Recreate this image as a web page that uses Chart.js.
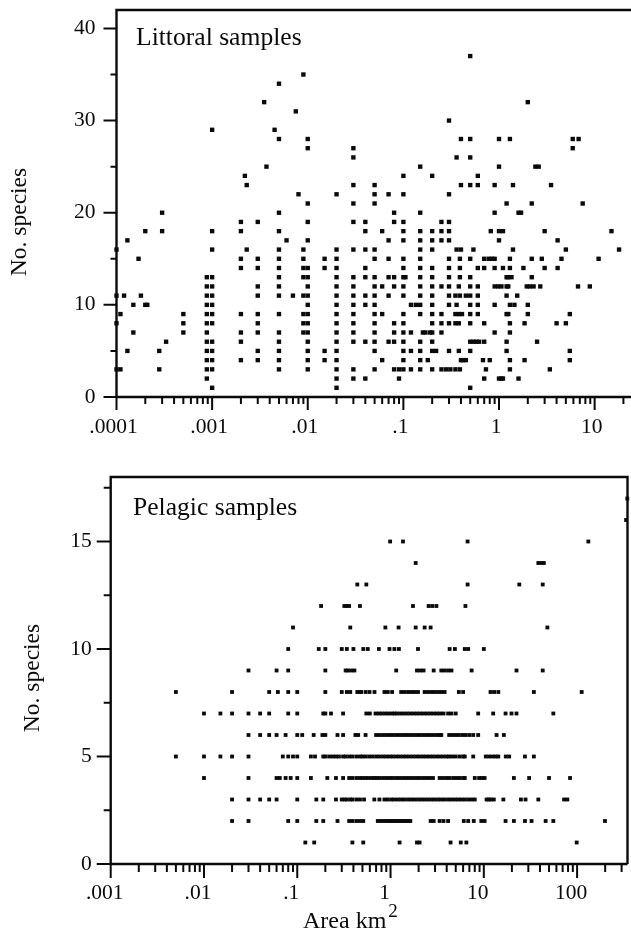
<!DOCTYPE html>
<html><head><meta charset="utf-8">
<style>html,body{margin:0;padding:0;background:#fff}canvas{position:absolute;left:0;display:block}</style>
<script src="https://cdn.jsdelivr.net/npm/chart.js@4"></script>
</head><body>
<canvas id="top" width="631" height="440" style="top:0"></canvas>
<canvas id="bot" width="631" height="496" style="top:440px"></canvas>
<script>
// Littoral samples: area values (km2) read for each species count
const L1=[.001,.02,.5];
const L2=[.00088,.02,.03,.04,.09,.7,1,1.06,1.1,1.6];
const L3=[.0001,.00011,.00028,.00088,.001,.005,.01,.02,.03,.05,.08,.09,.1,.12,.15,.2,.25,.28,.31,.35,.39,.73,1.3,3.4];
const L4=[.00088,.001,.002,.003,.005,.01,.015,.02,.06,.1,.15,.18,.4,.42,.45,.68,.8,1.3,1.85,5.5];
const L5=[.00013,.00028,.00088,.001,.003,.005,.01,.015,.02,.05,.1,.12,.15,.2,.22,.3,.38,.5,1.2,5.5];
const L6=[.00033,.00088,.001,.002,.005,.01,.02,.03,.04,.05,.07,.08,.1,.15,.2,.5,.54,.58,.62,.7,1.2,2.5];
const L7=[.00015,.0005,.00088,.002,.003,.005,.009,.01,.02,.03,.05,.08,.1,.12,.16,.17,.19,.2,.25,.9,1.3];
const L8=[.0001,.0005,.00088,.001,.003,.009,.01,.02,.03,.05,.08,.1,.2,.25,.3,.35,.38,.5,.7,1.3,1.85,4,5];
const L9=[.00011,.0005,.00088,.001,.002,.003,.005,.009,.01,.02,.03,.05,.06,.1,.15,.2,.25,.35,.38,.41,.5,.6,1.2,1.25,2,5.5];
const L10=[.00015,.0002,.00021,.00088,.001,.01,.02,.03,.04,.05,.12,.135,.15,.2,.3,.36,.5,.6,.9,1.3,1.45,2];
const L11=[.0001,.00012,.00018,.00088,.001,.003,.005,.007,.009,.01,.02,.03,.04,.05,.07,.1,.15,.2,.3,.35,.39,.45,.5,.6,1.2,1.55];
const L12=[.00088,.001,.003,.005,.01,.02,.03,.05,.06,.08,.1,.15,.2,.25,.3,.38,.5,.6,.9,.98,1.06,1.2,1.25,1.95,2.1,2.3,2.7,6.7,8.9];
const L13=[.00088,.001,.005,.009,.01,.02,.03,.04,.05,.07,.08,.1,.105,.15,.2,.3,.39,.5,1.2,1.25,1.35,2.2];
const L14=[.002,.003,.005,.009,.01,.015,.02,.04,.1,.15,.2,.3,.39,.6,.7,.9,1.1,1.3,1.8,3,4.1];
const L15=[.00017,.002,.003,.005,.009,.015,.02,.05,.07,.1,.15,.3,.39,.5,.7,.78,.84,.9,1.3,2.2,2.8,4.5,11];
const L16=[.0001,.001,.0023,.005,.009,.02,.03,.04,.05,.15,.2,.36,.4,.54,1.4,5,18];
const L17=[.00013,.006,.01,.07,.1,.15,.2,.25,.3,1,4.1];
const L18=[.0002,.0003,.001,.002,.005,.04,.06,.1,.15,.2,.25,.3,.82,1,1.1,3,15];
const L19=[.002,.003,.01,.03,.04,.08,.1,.25,.3];
const L20=[.0003,.005,.08,.15,.9,1.6,1.7];
const L21=[.01,.03,.05,1.2,2.2,7.5];
const L22=[.008,.02,.05,.07,.1,.3];
const L23=[.0023,.03,.05,.4,.5,.6,.9,1.4,3.5];
const L24=[.0022,.1,.2,.6];
const L25=[.0037,.15,1,2.4,2.6];
const L26=[.03,.36,.5];
const L27=[.01,.03,5.9];
const L28=[.005,.01,.4,.5,1,1.3,5.9,6.8];
const L29=[.001,.0045];
const L30=[.3];
const L31=[.0075];
const L32=[.0035,2];
const L34=[.005];
const L35=[.009];
const L37=[.5];
const littoralCounts=[1,2,3,4,5,6,7,8,9,10,11,12,13,14,15,16,17,18,19,20,21,22,23,24,25,26,27,28,29,30,31,32,34,35,37];
const littoralAreas=[L1,L2,L3,L4,L5,L6,L7,L8,L9,L10,L11,L12,L13,L14,L15,L16,L17,L18,L19,L20,L21,L22,L23,L24,L25,L26,L27,L28,L29,L30,L31,L32,L34,L35,L37];

// Pelagic samples
const P1=[.122,.152,.39,.51,1.25,1.92,2.05,4.4,5.66,6.5,99];
const P2=[.02,.03,.08,.1,.16,.19,.27,.36,.39,.43,.47,.51,.73,.78,.83,.88,.93,.98,1.02,1.08,1.14,1.2,1.26,1.33,1.4,1.47,1.55,1.63,2.69,2.9,3.36,3.7,4.14,6.1,6.8,7.8,9.4,10.2,17.1,21,27.6,32.5,46,55.6,199];
const P3=[.02,.03,.04,.05,.06,.1,.16,.19,.26,.3,.32,.34,.37,.39,.43,.47,.52,.67,.76,.86,.935,1.02,1.1,1.2,1.3,1.41,1.54,1.67,1.81,1.97,2.14,2.32,2.52,2.74,2.97,3.23,3.5,3.8,4.14,4.5,4.9,5.3,5.75,6.25,6.8,7.4,8,10.7,11.3,11.9,12.8,16.2,25,28,38.4,72.5,78.6];
const P4=[.01,.03,.06,.065,.075,.085,.1,.14,.21,.26,.31,.36,.39,.43,.47,.5,.54,.58,.63,.67,.71,.76,.83,.9,.98,1.06,1.15,1.25,1.36,1.47,1.6,1.74,1.89,2.05,2.23,2.42,2.63,2.85,3.36,3.65,3.97,4.3,4.7,5.1,5.5,6,6.25,8,8.9,9.6,10.2,21,30.6,50,84];
const P5=[.005,.01,.015,.02,.03,.07,.08,.09,.1,.14,.155,.19,.2,.22,.24,.26,.28,.31,.33,.36,.39,.43,.47,.5,.54,.59,.64,.7,.76,.83,.9,.98,1.06,1.15,1.25,1.36,1.47,1.6,1.74,1.89,2.05,2.23,2.42,2.63,2.85,3.1,3.36,3.65,3.97,4.25,4.6,5,5.5,6,6.25,7.7,10.5,11.4,12.4,13.4,14.3,17.2,18.7,27.6,34.4];
const P6=[.03,.04,.05,.06,.075,.1,.113,.15,.186,.2,.27,.31,.42,.45,.54,.7,.76,.83,.9,.98,1.06,1.15,1.25,1.36,1.47,1.6,1.74,1.89,2.05,2.23,2.42,2.63,2.85,3.1,3.36,3.5,4.25,4.6,5,5.4,5.9,6.4,7,7.7,8.7,13.7,16.4];
const P7=[.01,.015,.02,.03,.04,.05,.08,.1,.19,.2,.23,.31,.55,.6,.69,.75,.81,.88,.95,1.03,1.1,1.17,1.27,1.38,1.5,1.63,1.77,1.92,2.08,2.26,2.45,2.66,2.9,3.14,3.4,3.7,4.14,4.5,5,8.7,12.6,17.1,19.8,22.4,55.6];
const P8=[.005,.02,.05,.062,.08,.1,.2,.3,.34,.37,.44,.47,.484,.54,.595,.673,.86,.935,1.04,1.3,1.41,1.54,1.67,1.81,1.97,2.32,2.52,2.74,2.97,3.23,3.5,3.8,5.4,6,11.8,12.9,14.3,34.4,112];
const P9=[.03,.06,.08,.2,.33,.35,.38,.41,1.15,1.92,2.08,2.26,2.9,3.5,3.8,4.14,4.5,7.4,22.4,42.8];
const P10=[.08,.17,.2,.3,.34,.4,.51,.57,.75,.975,1.1,1.23,1.97,4.3,4.9,6.25,6.8,10];
const P11=[.09,.37,.88,1.22,1.86,2.32,2.69,48];
const P12=[.18,.32,.34,.36,.47,1.74,2.56,2.8,3.1,6.35];
const P13=[.44,.55,6.7,24,42.8];
const P14=[1.86,38.4,41.7,44];
const P15=[.99,1.36,6.7,132];
const P16=[335];
const P17=[345];
const pelagicCounts=[1,2,3,4,5,6,7,8,9,10,11,12,13,14,15,16,17];
const pelagicAreas=[P1,P2,P3,P4,P5,P6,P7,P8,P9,P10,P11,P12,P13,P14,P15,P16,P17];

const littoralDecades=[.0001,.001,.01,.1,1,10];
const littoralDecadeLabels=['.0001','.001','.01','.1','1','10'];
const littoralYTicks=[0,5,10,15,20,25,30,35,40];
const littoralYLabelled=[0,10,20,30,40];
const pelagicDecades=[.001,.01,.1,1,10,100];
const pelagicDecadeLabels=['.001','.01','.1','1','10','100'];
const pelagicYTicks=[0,2.5,5,7.5,10,12.5,15,17.5];
const pelagicYLabelled=[0,5,10,15];
const mantissas=[2,3,4,5,6,7,8,9];

const INK='#0a0a0a', SERIF='"Liberation Serif","Times New Roman",serif';

function panel(id,o){
  const pts=[];
  o.counts.forEach((c,i)=>o.areas[i].forEach(a=>pts.push({x:a,y:c})));
  const allTicks=[];
  o.decades.forEach(d=>{allTicks.push(d);mantissas.forEach(m=>{const v=+(d*m).toPrecision(3);if(v<=o.xMax)allTicks.push(v);});});
  const overlay={id:'overlay',afterDatasetsDraw(ch){
    const c=ch.ctx,a=ch.chartArea,xs=ch.scales.x,ys=ch.scales.y;
    c.save();c.strokeStyle=INK;c.fillStyle=INK;
    // frame
    c.lineWidth=2.4;c.beginPath();
    c.moveTo(a.left,a.bottom);c.lineTo(a.left,a.top);c.lineTo(a.right,a.top);
    if(o.closed)c.lineTo(a.right,a.bottom);
    c.moveTo(a.left,a.bottom);c.lineTo(a.right,a.bottom);c.stroke();
    // tick marks from the scales
    c.lineWidth=2;c.beginPath();
    xs.ticks.forEach(t=>{const p=xs.getPixelForValue(t.value),maj=o.decades.includes(t.value);
      c.moveTo(p,a.bottom);c.lineTo(p,a.bottom+(maj?o.xMajor:o.xMinor));});
    ys.ticks.forEach(t=>{const p=ys.getPixelForValue(t.value),maj=o.yLabelled.includes(t.value);
      c.moveTo(a.left,p);c.lineTo(a.left-(maj?o.yMajor:o.yMinor),p);});
    c.stroke();
    // texts
    c.textBaseline='alphabetic';c.textAlign='left';
    c.font='25.6px '+SERIF;c.fillText(o.label,o.labelX,o.labelY);
    c.save();c.translate(o.yTitleX,o.yTitleY);c.rotate(-Math.PI/2);c.textAlign='center';
    c.font='23.5px '+SERIF;c.fillText('No. species',0,0);c.restore();
    if(o.xTitle){
      c.font='24px '+SERIF;c.fillText('Area km',303,o.xTitleY);
      const w=c.measureText('Area km').width;
      c.font='19px '+SERIF;c.fillText('2',303+w+2,o.xTitleY-11);
    }
    c.restore();
  }};
  return new Chart(document.getElementById(id),{
    type:'scatter',
    data:{datasets:[{label:o.label,data:pts,pointStyle:'rect',pointRadius:o.radius,pointHoverRadius:o.radius,
      backgroundColor:INK,borderColor:INK,borderWidth:0,clip:false,showLine:false}]},
    options:{responsive:false,animation:false,
      layout:{autoPadding:false,padding:{top:o.top,right:o.right,left:0,bottom:0}},
      plugins:{legend:{display:false},tooltip:{enabled:false},title:{display:false}},
      scales:{
        x:{type:'logarithmic',position:'bottom',min:o.decades[0],max:o.xMax,bounds:'data',
          grid:{display:false,drawTicks:false,tickLength:0},border:{display:false},
          afterBuildTicks(s){s.ticks=allTicks.map(v=>({value:v}));},
          afterFit(s){s.height=o.xHeight;s.paddingLeft=0;s.paddingRight=0;s.paddingTop=0;s.paddingBottom=0;},
          ticks:{autoSkip:false,maxRotation:0,minRotation:0,color:INK,padding:o.xPad,labelOffset:o.xOffset,
            font:{family:SERIF,size:o.tick},
            callback(v){const i=o.decades.indexOf(+(+v).toPrecision(3));return i>=0?o.decadeLabels[i]:'';}}},
        y:{type:'linear',position:'left',min:0,max:o.yMax,
          grid:{display:false,drawTicks:false,tickLength:0},border:{display:false},
          afterBuildTicks(s){s.ticks=o.yTicks.map(v=>({value:v}));},
          afterFit(s){s.width=o.yWidth;s.paddingLeft=0;s.paddingRight=0;s.paddingTop=0;s.paddingBottom=0;},
          ticks:{autoSkip:false,color:INK,padding:o.yPad,font:{family:SERIF,size:o.tick},
            callback(v){return o.yLabelled.includes(v)?String(v):'';}}}
      }},
    plugins:[overlay]});
}

panel('top',{counts:littoralCounts,areas:littoralAreas,decades:littoralDecades,decadeLabels:littoralDecadeLabels,
  yTicks:littoralYTicks,yLabelled:littoralYLabelled,xMax:24,yMax:42,
  top:10,right:0,xHeight:43,yWidth:116.5,radius:3.1,tick:21.5,xPad:17,yPad:21,xOffset:-3,
  xMajor:13,xMinor:7,yMajor:13,yMinor:6,closed:false,
  label:'Littoral samples',labelX:136,labelY:45,yTitleX:26,yTitleY:222});
panel('bot',{counts:pelagicCounts,areas:pelagicAreas,decades:pelagicDecades,decadeLabels:pelagicDecadeLabels,
  yTicks:pelagicYTicks,yLabelled:pelagicYLabelled,xMax:347,yMax:18,
  top:37,right:3.5,xHeight:72,yWidth:110.7,radius:2.7,tick:21.5,xPad:16,yPad:19,xOffset:-6,
  xMajor:14,xMinor:8,yMajor:14,yMinor:7,closed:true,
  label:'Pelagic samples',labelX:133,labelY:75,yTitleX:39,yTitleY:238,xTitle:true,xTitleY:488});
</script>
</body></html>
